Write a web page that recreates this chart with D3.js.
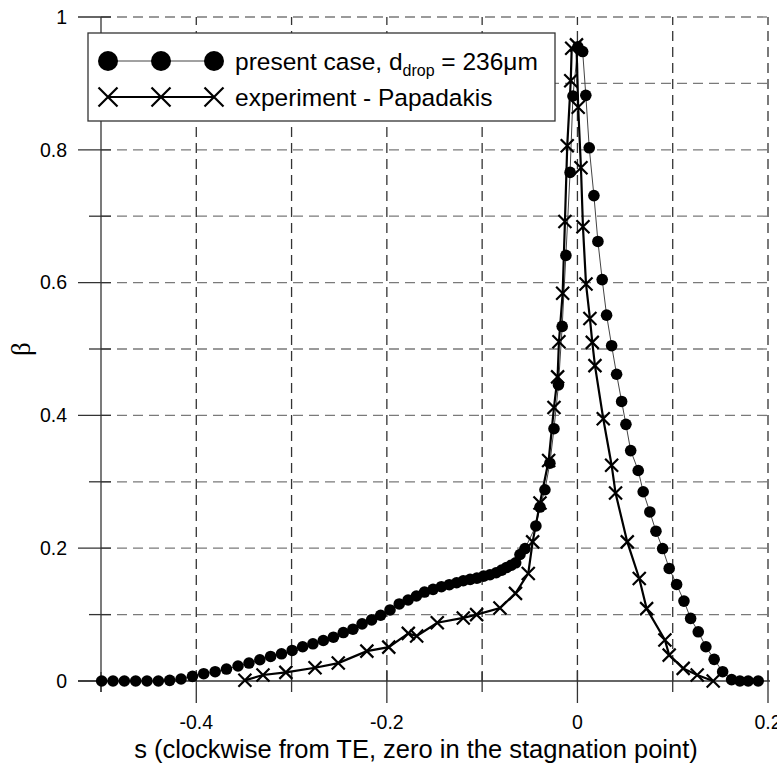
<!DOCTYPE html>
<html>
<head>
<meta charset="utf-8">
<script src="https://cdn.jsdelivr.net/npm/d3@7"></script>
<style>
	body { margin: 0; background: #fff; }
	svg { display: block; font-family: "Liberation Sans", Arial, sans-serif; }
</style>
</head>
<body>
<svg class="chart" width="777" height="765"></svg>
<script>
// present case (circles)
var presentS = [-0.4993,-0.4874,-0.4755,-0.4636,-0.4517,-0.4398,-0.4279,-0.4160,-0.4040,-0.3922,
	-0.3802,-0.3683,-0.3562,-0.3447,-0.3333,-0.3220,-0.3106,-0.2994,-0.2884,-0.2776,
	-0.2667,-0.2561,-0.2457,-0.2356,-0.2260,-0.2160,-0.2065,-0.1967,-0.1870,-0.1777,
	-0.1690,-0.1605,-0.1515,-0.1428,-0.1345,-0.1268,-0.1198,-0.1126,-0.1055,-0.0985,
	-0.0918,-0.0853,-0.0795,-0.0743,-0.0693,-0.0648,-0.0603,-0.0550,-0.0436,-0.0393,
	-0.0341,-0.0289,-0.0246,-0.0199,-0.0160,-0.0121,-0.0077,-0.0047,0.0005,0.0055,
	0.0088,0.0124,0.0173,0.0215,0.0260,0.0306,0.0359,0.0411,0.0464,0.0509,
	0.0559,0.0638,0.0690,0.0760,0.0824,0.0894,0.0963,0.1041,0.1118,0.1188,
	0.1268,0.1348,0.1435,0.1524,0.1618,0.1705,0.1792,0.1897];
var presentBeta = [0,0,0,0,0,0,0.001,0.003,0.007,0.011,
	0.014,0.018,0.0226,0.027,0.032,0.037,0.041,0.046,0.0516,0.056,
	0.061,0.066,0.073,0.078,0.086,0.092,0.099,0.107,0.116,0.122,
	0.128,0.134,0.138,0.142,0.145,0.148,0.151,0.153,0.155,0.158,
	0.160,0.163,0.167,0.171,0.1744,0.178,0.1905,0.1995,0.2335,0.262,
	0.288,0.328,0.380,0.446,0.534,0.641,0.766,0.881,0.955,0.948,
	0.882,0.803,0.731,0.662,0.6045,0.551,0.505,0.462,0.421,0.3865,
	0.347,0.317,0.285,0.2546,0.2256,0.1995,0.1695,0.1454,0.1203,0.0943,
	0.0741,0.0516,0.0326,0.014,0.002,0,0,0];

// experiment - Papadakis (crosses)
var expS = [-0.349,-0.330,-0.306,-0.2754,-0.251,-0.221,-0.198,-0.1775,-0.1687,-0.1471,
	-0.1198,-0.1058,-0.0813,-0.0650,-0.0516,-0.0470,-0.0393,-0.0302,-0.0246,-0.0208,
	-0.0194,-0.0155,-0.0131,-0.0107,-0.0070,-0.0060,-0.0010,0.0008,0.0037,0.0058,
	0.0090,0.0131,0.0156,0.0184,0.0271,0.0359,0.0400,0.0523,0.0649,0.0726,
	0.0918,0.0963,0.1110,0.1257,0.1425];
var expBeta = [0.001,0.009,0.013,0.020,0.027,0.045,0.051,0.0717,0.0677,0.0877,
	0.095,0.100,0.110,0.132,0.162,0.2095,0.268,0.332,0.412,0.458,
	0.511,0.584,0.692,0.806,0.904,0.953,0.958,0.864,0.773,0.684,
	0.598,0.546,0.510,0.475,0.395,0.325,0.283,0.2095,0.1544,0.109,
	0.0617,0.039,0.019,0.009,0];

var xTicks = [-0.5,-0.4,-0.3,-0.2,-0.1,0,0.1,0.2];
var xLabels = [-0.4,-0.2,0,0.2];
var yTicks = [0,0.1,0.2,0.3,0.4,0.5,0.6,0.7,0.8,0.9,1];
var yLabels = [0,0.2,0.4,0.6,0.8,1];

var x = d3.scaleLinear().domain([-0.5,0.2]).range([101,768]);
var y = d3.scaleLinear().domain([0,1]).range([681,17]);
var chart = d3.select('.chart');
var isMajor = function(v, list){ return list.some(function(l){ return Math.abs(l - v) < 1e-9 }) };

// grid
chart.append('g').selectAll('line')
	.data(yTicks.filter(function(d){ return d > 0 }))
	.enter().append('line')
	.attr('x1',x(-0.5)).attr('x2',x(0.2))
	.attr('y1',function(d){ return y(d) }).attr('y2',function(d){ return y(d) })
	.style('stroke','#7a7a7a').style('stroke-width',1.3).style('stroke-dasharray','10,6');
chart.append('g').selectAll('line')
	.data(xTicks.filter(function(d){ return d > -0.5 }))
	.enter().append('line')
	.attr('x1',function(d){ return x(d) }).attr('x2',function(d){ return x(d) })
	.attr('y1',y(0)).attr('y2',y(1))
	.style('stroke','#333').style('stroke-width',1.3).style('stroke-dasharray','10,6');

// axes
var ax = chart.append('g').style('stroke','#333').style('stroke-width',1.3);
ax.append('line').attr('x1',x(-0.5)).attr('x2',x(-0.5)).attr('y1',y(1)).attr('y2',y(0) + 11);
ax.append('line').attr('x1',x(-0.5) - 23).attr('x2',x(0.2) + 2).attr('y1',y(0)).attr('y2',y(0));
ax.selectAll('.yt').data(yTicks).enter().append('line')
	.attr('x1',function(d){ return x(-0.5) - (isMajor(d,yLabels) ? 23 : 12) })
	.attr('x2',x(-0.5) + 10)
	.attr('y1',function(d){ return y(d) }).attr('y2',function(d){ return y(d) });
ax.selectAll('.xt').data(xTicks).enter().append('line')
	.attr('x1',function(d){ return x(d) }).attr('x2',function(d){ return x(d) })
	.attr('y1',function(d){ return y(0) - (isMajor(d,xLabels) ? 11 : 9) })
	.attr('y2',function(d){ return y(0) + (isMajor(d,xLabels) ? 22 : 11) });

chart.append('g').selectAll('text').data(yLabels).enter().append('text')
	.attr('x',67).attr('y',function(d){ return y(d) }).attr('dy','0.35em')
	.attr('text-anchor','end').style('font-size','19.5px')
	.text(function(d){ return String(d) });
chart.append('g').selectAll('text').data(xLabels).enter().append('text')
	.attr('x',function(d){ return x(d) }).attr('y',729)
	.attr('text-anchor','middle').style('font-size','19.5px')
	.text(function(d){ return String(d) });

chart.append('text').attr('x',416).attr('y',758).attr('text-anchor','middle')
	.style('font-size','25.5px').text('s (clockwise from TE, zero in the stagnation point)');
chart.append('text').attr('transform','translate(30,349) rotate(-90)').attr('text-anchor','middle')
	.style('font-family','"Liberation Serif", serif').style('font-size','27px').text('β');

// series
var present = presentS.map(function(s,i){ return [s, presentBeta[i]] });
var exp = expS.map(function(s,i){ return [s, expBeta[i]] });
var line = d3.line().x(function(d){ return x(d[0]) }).y(function(d){ return y(d[1]) });

chart.append('path').datum(present).attr('d',line)
	.style('fill','none').style('stroke','#444').style('stroke-width',1);
chart.append('path').datum(exp).attr('d',line)
	.style('fill','none').style('stroke','#000').style('stroke-width',2.2);

chart.append('g').selectAll('circle').data(present).enter().append('circle')
	.attr('cx',function(d){ return x(d[0]) }).attr('cy',function(d){ return y(d[1]) })
	.attr('r',5.8).style('fill','#000');

function cross(sel, size){
	sel.append('path')
		.attr('d','M' + (-size) + ',' + (-size) + 'L' + size + ',' + size + 'M' + (-size) + ',' + size + 'L' + size + ',' + (-size))
		.style('stroke','#000').style('stroke-width',2.2).style('fill','none');
}
chart.append('g').selectAll('g').data(exp).enter().append('g')
	.attr('transform',function(d){ return 'translate(' + x(d[0]) + ',' + y(d[1]) + ')' })
	.call(cross,6.5);

// legend
var lg = chart.append('g');
lg.append('rect').attr('x',88).attr('y',33).attr('width',467).attr('height',88)
	.style('fill','#fff').style('stroke','#333').style('stroke-width',1.3);
lg.append('line').attr('x1',108).attr('x2',214).attr('y1',61).attr('y2',61)
	.style('stroke','#444').style('stroke-width',1);
lg.selectAll('circle').data([108,161,214]).enter().append('circle')
	.attr('cx',function(d){ return d }).attr('cy',61).attr('r',10).style('fill','#000');
lg.append('line').attr('x1',108).attr('x2',214).attr('y1',97).attr('y2',97)
	.style('stroke','#000').style('stroke-width',2.2);
lg.selectAll('g').data([108,161,214]).enter().append('g')
	.attr('transform',function(d){ return 'translate(' + d + ',97)' })
	.call(cross,9.5);
var t1 = lg.append('text').attr('x',235).attr('y',70).style('font-size','24.5px');
t1.append('tspan').text('present case, d');
t1.append('tspan').attr('dy',6).style('font-size','16px').text('drop');
t1.append('tspan').attr('dy',-6).text(' = 236μm');
lg.append('text').attr('x',235).attr('y',106).style('font-size','24.5px').text('experiment - Papadakis');
</script>
</body>
</html>
